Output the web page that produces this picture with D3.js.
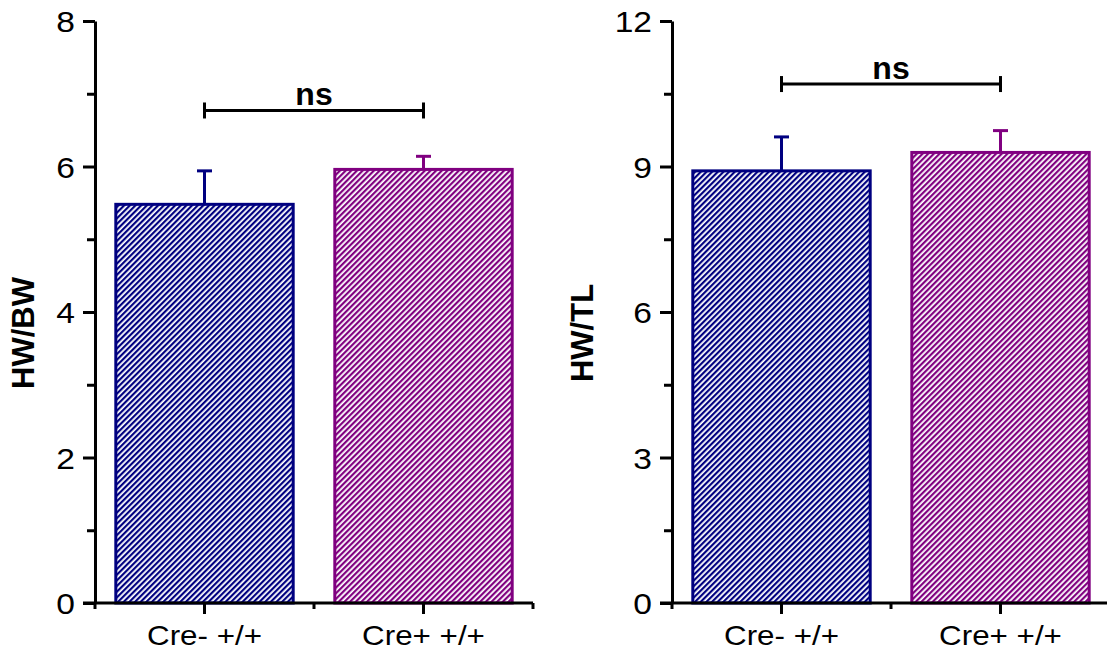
<!DOCTYPE html>
<html>
<head>
<meta charset="utf-8">
<script src="https://cdn.jsdelivr.net/npm/d3@7"></script>
<style>
  body { margin: 0; background: #fff; }
  svg { display: block; font-family: Arial, "Liberation Sans", sans-serif; }
</style>
</head>
<body>
<svg id="chart" width="1107" height="656"></svg>
<script>
// data
var categories = ["Cre- +/+", "Cre+ +/+"];
var barColors = ["#000080", "#800080"];

var hwbwMean = [5.48, 5.96];
var hwbwSd = [0.46, 0.18];
var hwbwTicks = [0, 2, 4, 6, 8];

var hwtlMean = [8.91, 9.29];
var hwtlSd = [0.70, 0.45];
var hwtlTicks = [0, 3, 6, 9, 12];

var sigLabel = "ns";
var sigLevel = [6.77, 10.70];   // bracket height, in data units of each panel

var svg = d3.select("#chart");
var textStretch = 1.12;

// hatch patterns, one per colour
var defs = svg.append("defs");
barColors.forEach(function(c, i) {
	var p = defs.append("pattern")
		.attr("id", "hatch" + i)
		.attr("patternUnits", "userSpaceOnUse")
		.attr("width", 4)
		.attr("height", 10)
		.attr("patternTransform", "rotate(45)");
	p.append("rect").attr("width", 4).attr("height", 10).attr("fill", "#fff");
	p.append("rect").attr("width", 2.2).attr("height", 10).attr("fill", c);
});

function drawPanel(opts) {
	var top = 21, bottom = 603;

	var y = d3.scaleLinear().domain([0, d3.max(opts.ticks)]).range([bottom, top]);
	var x = d3.scaleBand().domain(categories)
		.range([opts.left, opts.right])
		.paddingInner(0.19)
		.paddingOuter(0.095);

	var g = svg.append("g");

	// bars
	g.selectAll("rect.bar")
		.data(opts.mean)
	  .enter()
		.append("rect")
		.attr("class", "bar")
		.attr("x", function(d, i) { return x(categories[i]); })
		.attr("y", function(d) { return y(d); })
		.attr("width", x.bandwidth())
		.attr("height", function(d) { return y(0) - y(d); })
		.attr("fill", function(d, i) { return "url(#hatch" + i + ")"; })
		.attr("stroke", function(d, i) { return barColors[i]; })
		.attr("stroke-width", 3);

	// error bars (upper half only)
	var eb = g.selectAll("g.err")
		.data(opts.mean)
	  .enter()
		.append("g")
		.attr("class", "err")
		.attr("stroke", function(d, i) { return barColors[i]; })
		.attr("stroke-width", 3);
	eb.append("line")
		.attr("x1", function(d, i) { return x(categories[i]) + x.bandwidth() / 2; })
		.attr("x2", function(d, i) { return x(categories[i]) + x.bandwidth() / 2; })
		.attr("y1", function(d) { return y(d); })
		.attr("y2", function(d, i) { return y(d + opts.sd[i]); });
	eb.append("line")
		.attr("x1", function(d, i) { return x(categories[i]) + x.bandwidth() / 2 - 7.5; })
		.attr("x2", function(d, i) { return x(categories[i]) + x.bandwidth() / 2 + 7.5; })
		.attr("y1", function(d, i) { return y(d + opts.sd[i]); })
		.attr("y2", function(d, i) { return y(d + opts.sd[i]); });

	// y axis: major + minor ticks
	var minor = [];
	for (var k = 0; k < opts.ticks.length - 1; k++) minor.push((opts.ticks[k] + opts.ticks[k + 1]) / 2);

	g.append("g")
		.attr("transform", "translate(" + opts.left + ",0)")
		.call(d3.axisLeft(y).tickValues(minor).tickSize(8).tickSizeOuter(0).tickFormat(""))
		.call(function(a) { a.select(".domain").remove(); });

	var yAxis = g.append("g")
		.attr("transform", "translate(" + opts.left + ",0)")
		.call(d3.axisLeft(y).tickValues(opts.ticks).tickSize(12).tickSizeOuter(0));
	yAxis.selectAll("text")
		.attr("x", -20 / textStretch)
		.attr("dy", "0.36em")
		.attr("transform", "scale(" + textStretch + ",1)")
		.style("font-size", "30px")
		.style("fill", "#000")
		.style("font-family", "Arial, 'Liberation Sans', sans-serif");

	// x axis: major ticks at categories, minor at band edges
	var edges = [0, 1, 2].map(function(i) { return opts.left + i * x.step(); });
	var xAxis = g.append("g")
		.attr("transform", "translate(0," + bottom + ")")
		.call(d3.axisBottom(x).tickSize(11).tickSizeOuter(0));
	xAxis.select(".domain").attr("d", "M" + (opts.left - 12) + ",0H" + opts.right);
	xAxis.selectAll("text")
		.attr("y", 42)
		.attr("dy", 0)
		.attr("transform", "scale(" + textStretch + ",1)")
		.attr("x", 0)
		.style("font-size", "28px")
		.style("fill", "#000")
		.style("font-family", "Arial, 'Liberation Sans', sans-serif");
	xAxis.selectAll(".tick").attr("transform", function(d) {
		return "translate(" + (x(d) + x.bandwidth() / 2) + ",0)";
	});
	g.selectAll("line.xminor")
		.data(edges)
	  .enter()
		.append("line")
		.attr("class", "xminor")
		.attr("x1", function(d) { return d; })
		.attr("x2", function(d) { return d; })
		.attr("y1", bottom)
		.attr("y2", bottom + 6);

	g.selectAll(".domain, .tick line, line.xminor")
		.attr("stroke", "#000")
		.attr("stroke-width", 3);

	// y title
	g.append("text")
		.attr("transform", "translate(" + opts.titleX + ",333) rotate(-90)")
		.attr("text-anchor", "middle")
		.attr("dy", "0.36em")
		.style("font-size", "31px")
		.style("font-weight", "bold")
		.text(opts.title);

	// significance bracket
	var c0 = x(categories[0]) + x.bandwidth() / 2,
		c1 = x(categories[1]) + x.bandwidth() / 2,
		by = y(opts.sig);
	var br = g.append("g").attr("stroke", "#000").attr("stroke-width", 3);
	br.append("line").attr("x1", c0).attr("x2", c1).attr("y1", by).attr("y2", by);
	br.append("line").attr("x1", c0).attr("x2", c0).attr("y1", by - 8).attr("y2", by + 8);
	br.append("line").attr("x1", c1).attr("x2", c1).attr("y1", by - 8).attr("y2", by + 8);
	g.append("text")
		.attr("x", (c0 + c1) / 2)
		.attr("y", by - 5)
		.attr("text-anchor", "middle")
		.style("font-size", "32px")
		.style("font-weight", "bold")
		.text(sigLabel);
}

drawPanel({ left: 95, right: 533, ticks: hwbwTicks, mean: hwbwMean, sd: hwbwSd,
	title: "HW/BW", titleX: 23, sig: sigLevel[0] });
drawPanel({ left: 672, right: 1110, ticks: hwtlTicks, mean: hwtlMean, sd: hwtlSd,
	title: "HW/TL", titleX: 582, sig: sigLevel[1] });
</script>
</body>
</html>
